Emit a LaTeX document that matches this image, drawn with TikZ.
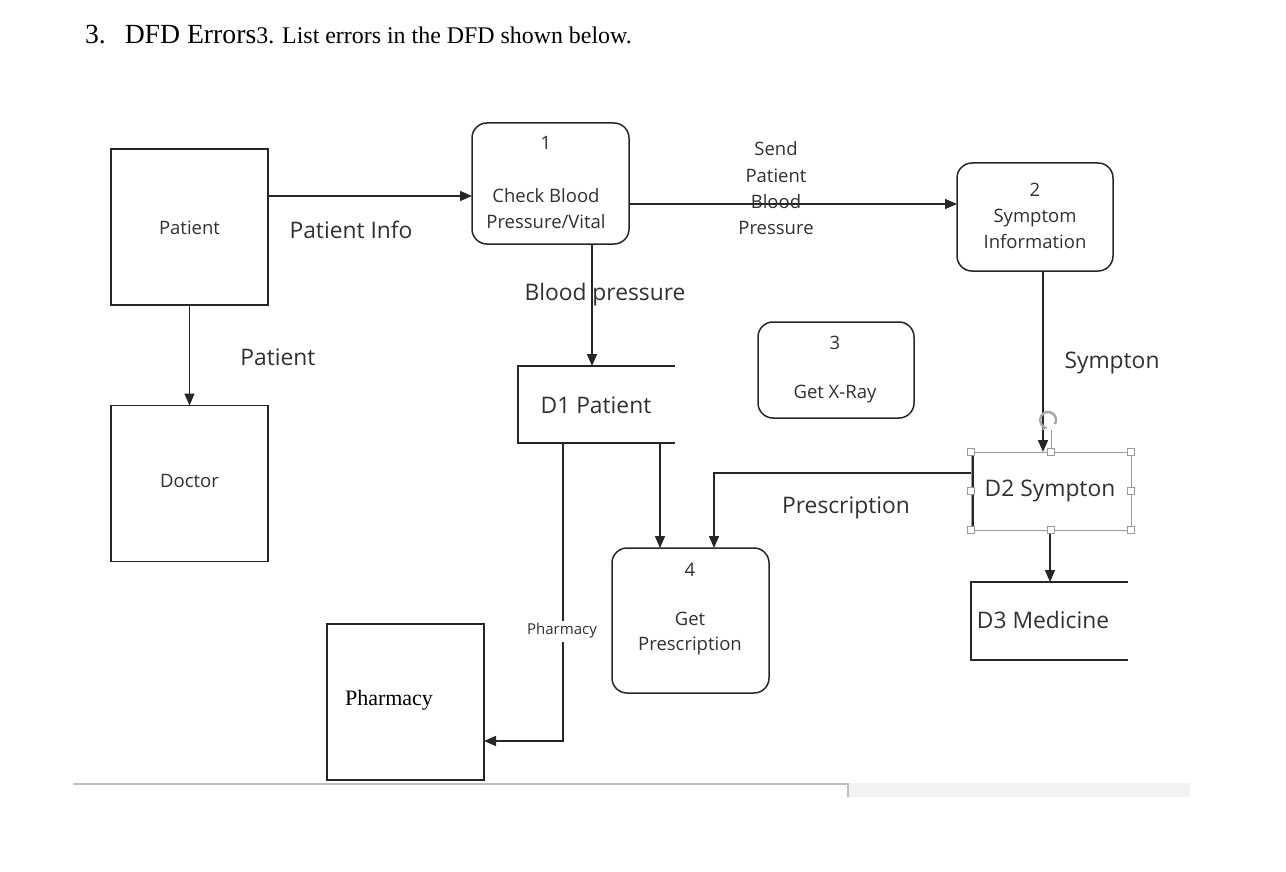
\documentclass[tikz,border=0pt]{standalone}
\usepackage{fontspec}
\setmainfont{Liberation Serif}
\newfontfamily\dfdfont{Open Sans}
\usetikzlibrary{arrows.meta}
\definecolor{ink}{HTML}{262626}
\definecolor{txt}{HTML}{303030}
\definecolor{hgray}{HTML}{9A9A9A}
\tikzset{
  every node/.style={inner sep=0pt, outer sep=0pt},
  ent/.style={draw=ink, line width=1.5pt, minimum width=157pt, minimum height=156pt},
  proc/.style={draw=ink, line width=1.5pt, rounded corners=15pt},
  lbl/.style={text=txt, font=\dfdfont\fontsize{18.5}{25.5}\selectfont, align=center},
  biglbl/.style={text=txt, font=\dfdfont\fontsize{22.8}{26}\selectfont},
  flow/.style={draw=ink, line width=1.6pt, -{Triangle[length=12pt,width=10pt]}},
  plain/.style={draw=ink, line width=1.6pt},
  handle/.style={draw=hgray, fill=white, line width=0.9pt, minimum width=7pt, minimum height=7pt}
}
\begin{document}
\begin{tikzpicture}[x=1pt,y=-1pt]
\useasboundingbox (0,0) rectangle (1286,872);
% title
\node[anchor=base west, font=\fontsize{27.7}{32}\selectfont] (title) at (85,44)
  {3.\hspace{19pt}DFD Errors{\fontsize{23.9}{28}\selectfont 3. List errors in the DFD shown below.}};

% external entities
\node[ent] (patient) at (189.5,227) {};
\node[lbl] (patientT) at (189.5,228) {Patient};
\node[ent] (doctor) at (189.5,483.5) {};
\node[lbl] (doctorT) at (189.5,481) {Doctor};
\node[ent, minimum height=156pt] (pharm) at (405.5,702) {};
\node[font=\fontsize{22}{26}\selectfont] (pharmT) at (389,700) {Pharmacy};

% processes
\node[proc, minimum width=157pt, minimum height=121pt] (p1) at (550.5,183.5) {};
\node[lbl] (p1n) at (546,143) {1};
\node[lbl] (p1t) at (546,208.5) {Check Blood\\Pressure/Vital};

\node[proc, minimum width=156pt, minimum height=108pt] (p2) at (1035,217) {};
\node[lbl] (p2n) at (1035,190) {2};
\node[lbl] (p2t) at (1035,229) {Symptom\\Information};

\node[proc, minimum width=156pt, minimum height=96pt] (p3) at (836,370) {};
\node[lbl] (p3n) at (835,343) {3};
\node[lbl] (p3t) at (835,394) {Get X-Ray};

\node[proc, minimum width=157pt, minimum height=145pt] (p4) at (690.5,620.5) {};
\node[lbl] (p4n) at (690,570) {4};
\node[lbl] (p4t) at (690,633.5) {Get\\Prescription};

% data stores (open right side)
\node[minimum width=157pt, minimum height=77pt] (d1) at (596.5,404.5) {};
\draw[plain] (d1.north east) -- (d1.north west) -- (d1.south west) -- (d1.south east);
\node[biglbl] (d1t) at (596,405) {D1 Patient};

\node[minimum width=160pt, minimum height=78pt] (d2) at (1051,491) {};
\draw[hgray, line width=1pt] (d2.north west) rectangle (d2.south east);
\draw[plain] ([xshift=2pt,yshift=-4pt]d2.north west) -- ([xshift=2pt,yshift=2pt]d2.south west);
\node[biglbl] (d2t) at (1050,491) {D2 Sympton};

\node[minimum width=157pt, minimum height=78pt] (d3) at (1049.5,621) {};
\draw[plain] (d3.north east) -- (d3.north west) -- (d3.south west) -- (d3.south east);
\node[biglbl] (d3t) at (1043,620) {D3 Medicine};

% flows
\draw[flow] (patient.south) -- (doctor.north);
\node[biglbl] (fl1) at (278,357) {Patient};

\draw[flow] (patient.east |- 0,196) -- (p1.west |- 0,196);
\node[biglbl] (fl2) at (351,230) {Patient Info};

\draw[flow] (p1.east |- 0,204) -- (p2.west |- 0,204);
\node[lbl, font=\dfdfont\fontsize{18.5}{26.3}\selectfont] (fl3) at (776,188.5) {Send\\Patient\\Blood\\Pressure};

\draw[flow] (p1.south -| 592,0) -- (d1.north -| 592,0);
\node[biglbl] (fl4) at (605,295) {Blood pressure};

\draw[flow] (p2.south -| 1043,0) -- (d2.north -| 1043,0);
\node[biglbl] (fl5) at (1112,363) {Sympton};

\draw[flow] (d2.south -| 1050,0) -- (d3.north -| 1050,0);

\draw[flow] (d2.west |- 0,473) -- (714,473) -- (p4.north -| 714,0);
\node[biglbl] (fl6) at (846,508) {Prescription};

\draw[flow] (d1.south -| 660,0) -- (p4.north -| 660,0);

\draw[flow] (d1.south -| 563,0) -- (563,741) -- (pharm.east |- 0,741);
\node[fill=white, inner xsep=1pt, inner ysep=3pt, text=txt, font=\dfdfont\fontsize{15}{18}\selectfont] (fl7) at (562,631) {Pharmacy};

% selection handles on D2
\draw[hgray, line width=1pt] (1051,430) -- (d2.north);
\draw[black!35, line width=2.4pt, -{Stealth[length=6pt,width=7pt]}] (1055,424) arc[start angle=-30, end angle=265, radius=8pt];
\foreach \a [count=\i] in {north west, north, north east, west, east, south west, south, south east}
  \node[handle] (h\i) at (d2.\a) {};

% bottom page remnants
\node[minimum width=342pt, minimum height=14pt, fill=black!5] (pg) at (1019,790) {};
\draw[black!25, line width=1.6pt] (73,784) -- (848,784) -- (pg.south west);
\end{tikzpicture}
\end{document}
